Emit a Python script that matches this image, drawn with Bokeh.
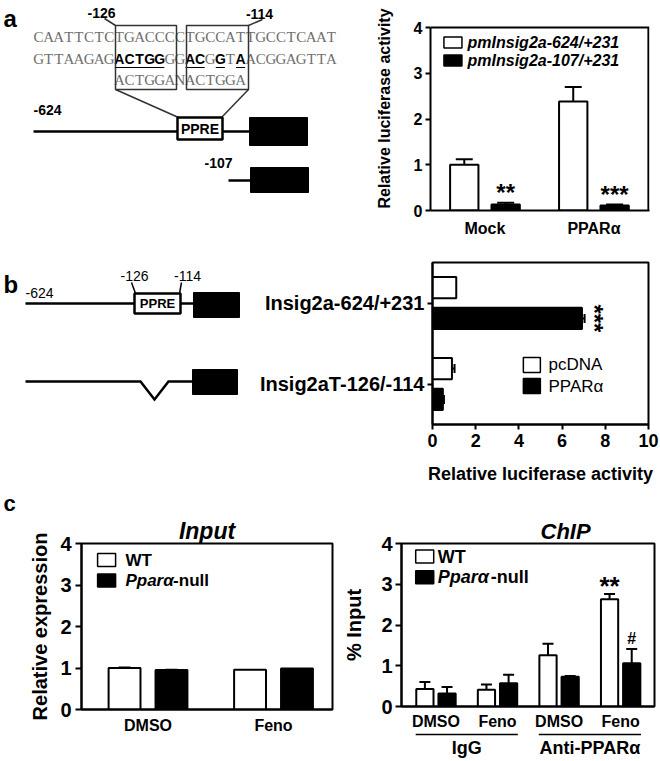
import numpy as np
from bokeh.plotting import figure
from bokeh.models import Range1d, FixedTicker, ColumnDataSource, Whisker, TeeHead, Title
from bokeh.layouts import row, column
from bokeh.embed import file_html
from bokeh.resources import INLINE
from bokeh.core.properties import value

FONT = "Liberation Sans"

# ---------------- data ----------------
# panel a : luciferase, two promoter constructs
a_groups = ["Mock", "PPARα"]
a_series = ["pmInsig2a-624/+231", "pmInsig2a-107/+231"]
a_long = [1.00, 2.38]
a_long_err = [0.12, 0.32]
a_short = [0.13, 0.11]
a_short_err = [0.04, 0.02]
a_marks = ["**", "***"]
a_yticks = [0, 1, 2, 3, 4]

# panel b : luciferase, PPRE deletion
b_constructs = ["Insig2a-624/+231", "Insig2aT-126/-114"]
b_series = ["pcDNA", "PPARα"]
b_pcdna = [1.10, 0.90]
b_pcdna_err = [0.0, 0.12]
b_ppara = [6.92, 0.48]
b_ppara_err = [0.12, 0.05]
b_marks = ["***", ""]
b_xticks = [0, 2, 4, 6, 8, 10]

# panel c : Input and ChIP
c_series = ["WT", "Pparα-null"]
input_treat = ["DMSO", "Feno"]
input_wt = [1.00, 0.96]
input_wt_err = [0.01, 0.0]
input_null = [0.95, 0.99]
input_null_err = [0.01, 0.0]
chip_groups = ["IgG", "Anti-PPARα"]
chip_treat = ["DMSO", "Feno", "DMSO", "Feno"]
chip_wt = [0.43, 0.41, 1.26, 2.63]
chip_wt_err = [0.17, 0.13, 0.28, 0.13]
chip_null = [0.32, 0.57, 0.73, 1.06]
chip_null_err = [0.16, 0.21, 0.02, 0.35]
chip_marks_wt = ["", "", "", "**"]
chip_marks_null = ["", "", "", "#"]
c_yticks = [0, 1, 2, 3, 4]


# ---------------- helpers ----------------
def base_fig(w, h, xr, yr, bl, br, bt, bb):
    p = figure(width=w, height=h, x_range=xr, y_range=yr, output_backend="svg",
               toolbar_location=None, min_border_left=bl, min_border_right=br,
               min_border_top=bt, min_border_bottom=bb)
    p.xgrid.visible = False
    p.ygrid.visible = False
    p.outline_line_color = "black"
    p.outline_line_width = 2
    p.outline_line_alpha = 1
    p.background_fill_color = "white"
    p.border_fill_color = "white"
    for ax in p.axis:
        ax.axis_line_width = 2
        ax.axis_line_color = "black"
        ax.major_tick_line_width = 2
        ax.major_tick_line_color = "black"
        ax.major_tick_in = 0
        ax.major_tick_out = 5
        ax.minor_tick_line_color = None
        ax.major_label_text_font = FONT
        ax.major_label_text_font_style = "bold"
        ax.major_label_text_color = "black"
        ax.axis_label_text_font = FONT
        ax.axis_label_text_font_style = "bold"
        ax.axis_label_text_color = "black"
    return p


def canvas(w, h, x0, y_top, y_bot, bt, bb, xr=None, bl=0, br=0):
    # frame spans the rows between bt and h-bb; y_top / y_bot are the page rows there
    p = figure(width=w, height=h,
               x_range=xr if xr is not None else Range1d(x0, x0 + w),
               y_range=Range1d(y_bot, y_top),
               output_backend="svg", toolbar_location=None,
               min_border_left=bl, min_border_right=br, min_border_top=bt, min_border_bottom=bb,
               x_axis_location=None, y_axis_location=None)
    p.outline_line_color = None
    p.background_fill_color = "white"
    p.border_fill_color = "white"
    p.grid.visible = False
    return p


def txt(p, x, y, s, size, style="bold", color="black", align="left", font=FONT,
        baseline="middle", angle=0):
    p.text(x=[x], y=[y], text=[s], text_font=value(font), text_font_size=f"{size}px",
           text_font_style=style, text_color=color, text_align=align,
           text_baseline=baseline, angle=angle)


def seg(p, pts, width=2.5, color="black"):
    xs = [q[0] for q in pts]
    ys = [q[1] for q in pts]
    p.line(xs, ys, line_width=width, line_color=color, line_cap="butt", line_join="miter")


def box(p, l, r, t, b, fill=None, width=2.5, color="black"):
    p.quad(left=[l], right=[r], top=[t], bottom=[b], fill_color=fill,
           line_color=color, line_width=width)


def whisk(p, base, center, err, dim, size, lw=2):
    base = np.asarray(base, float)
    center = np.asarray(center, float)
    err = np.asarray(err, float)
    keep = err > 0
    src = ColumnDataSource(dict(base=base[keep], lower=(center - err)[keep],
                                upper=(center + err)[keep]))
    w = Whisker(source=src, base="base", lower="lower", upper="upper", dimension=dim,
                line_width=lw, line_color="black",
                upper_head=TeeHead(size=size, line_width=lw, line_color="black"),
                lower_head=TeeHead(size=size, line_width=lw, line_color="black"))
    p.add_layout(w)


def title(text, size, style, align="center", offset=0):
    return Title(text=text, align=align, offset=offset, text_font=FONT,
                 text_font_size=f"{size}px", text_font_style=style,
                 text_color="black", standoff=0)


# ---------------- panel a diagram (frame rows 6..210) ----------------
da = canvas(360, 245, 0, 6, 210, 6, 35)
SEQ_X0, CW = 33, 10.1
seq_top = "CAATTCTCTGACCCCTGCCATTGCCTCAAT"
seq_bot = "GTTAAGAGACTGGGGACGGTAACGGAGTTA"
bold_idx = [8, 9, 10, 11, 12, 15, 16, 18, 20]
seq_cons = "ACTGGANACTGGA"
cons_start = 8
rows_y = [36, 58, 79]

nx, ny, nt = [], [], []
bx, by, bt = [], [], []
for i, ch in enumerate(seq_top):
    nx.append(SEQ_X0 + (i + 0.5) * CW); ny.append(rows_y[0]); nt.append(ch)
for i, ch in enumerate(seq_bot):
    if i in bold_idx:
        bx.append(SEQ_X0 + (i + 0.5) * CW); by.append(rows_y[1]); bt.append(ch)
    else:
        nx.append(SEQ_X0 + (i + 0.5) * CW); ny.append(rows_y[1]); nt.append(ch)
for j, ch in enumerate(seq_cons):
    i = cons_start + j
    nx.append(SEQ_X0 + (i + 0.5) * CW); ny.append(rows_y[2]); nt.append(ch)
da.text(x=nx, y=ny, text=nt, text_font=value("Liberation Serif"), text_font_size="15px",
        text_color="#6e6e6e", text_align="center", text_baseline="middle")
da.text(x=bx, y=by, text=bt, text_font=value(FONT), text_font_size="14px",
        text_font_style="bold", text_color="black", text_align="center", text_baseline="middle")
for grp in [(8, 12), (15, 16), (18, 18), (20, 20)]:
    seg(da, [(SEQ_X0 + grp[0] * CW + 0.5, 67), (SEQ_X0 + (grp[1] + 1) * CW - 0.5, 67)],
        width=1.2)

box(da, 115, 176, 25, 89, None, 1.5, "#333333")
box(da, 186, 248, 25, 89, None, 1.5, "#333333")
seg(da, [(104, 18), (115, 25)], 1.5, "#333333")
seg(da, [(262, 19), (248, 25)], 1.5, "#333333")
seg(da, [(115, 89), (178, 117)], 1.5, "#333333")
seg(da, [(248, 89), (221, 117)], 1.5, "#333333")
seg(da, [(33, 131), (177, 131)])
seg(da, [(222, 131), (249, 131)])
box(da, 177, 222, 117, 139, "white", 2.5)
box(da, 249, 307, 117, 145, "black", 1)
seg(da, [(228, 180), (250, 180)])
box(da, 250, 308, 167, 192, "black", 1)
txt(da, 3, 18, "a", 24)
txt(da, 101, 12, "-126", 14, align="center")
txt(da, 259, 13, "-114", 14, align="center")
txt(da, 33, 109, "-624", 14)
txt(da, 199.5, 128, "PPRE", 14, align="center")
txt(da, 204, 162, "-107", 14)

# ---------------- panel a chart ----------------
xa = np.arange(len(a_groups)) + 0.5
A_TOP = 4
pa = base_fig(300, 245, Range1d(0, 2.01), Range1d(0, 204 / 45.75), 70, 11, 6, 35)
pa.outline_line_color = None
pa.yaxis.bounds = (0, A_TOP)
pa.line([0, 2, 2], [A_TOP, A_TOP, 0], line_width=2, line_color="black", line_join="miter")
pa.vbar(x=xa - 0.19, top=a_long, width=0.26, fill_color="white", line_color="black", line_width=2)
pa.vbar(x=xa + 0.19, top=a_short, width=0.26, fill_color="black", line_color="black", line_width=2)
whisk(pa, xa - 0.19, a_long, a_long_err, "height", 17)
whisk(pa, xa + 0.19, a_short, a_short_err, "height", 17)
mk_y = np.array(a_short) + np.array(a_short_err) + 0.23
pa.text(x=xa + 0.19, y=mk_y, text=a_marks, text_font=value(FONT), text_font_size="24px",
        text_font_style="bold", text_align="center", text_baseline="alphabetic")
pa.xaxis.ticker = FixedTicker(ticks=list(xa))
pa.xaxis.major_label_overrides = {float(x): g for x, g in zip(xa, a_groups)}
pa.xaxis.major_tick_out = 0
pa.xaxis.major_label_standoff = 9
pa.xaxis.major_label_text_font_size = "16px"
pa.yaxis.ticker = FixedTicker(ticks=a_yticks)
pa.yaxis.major_label_text_font_size = "16px"
pa.yaxis.major_label_standoff = 3
pa.yaxis.axis_label = "Relative luciferase activity"
pa.yaxis.axis_label_text_font_size = "16px"
pa.yaxis.axis_label_standoff = 18
# legend
pa.rect(x=[0.206, 0.206], y=[3.67, 3.28], width=18, height=11, width_units="screen",
        height_units="screen", fill_color=["white", "black"], line_color="black", line_width=1.5)
pa.text(x=[0.34, 0.34], y=[3.67, 3.28], text=a_series, text_font=value(FONT),
        text_font_size="16px", text_font_style="bold italic", text_baseline="middle")

# ---------------- panel b diagram (frame rows 262..424) ----------------
ROW2_H, ROW2_BB = 242, 63
db = canvas(240, ROW2_H, 0, 262, 424, 17, ROW2_BB)
txt(db, 3, 284, "b", 24)
txt(db, 25, 292, "-624", 14, style="normal")
txt(db, 134, 275, "-126", 14, style="normal", align="center")
txt(db, 187, 275, "-114", 14, style="normal", align="center")
seg(db, [(131, 282), (135, 293)], 1.5)
seg(db, [(181, 282), (179, 293)], 1.5)
seg(db, [(25, 303), (134, 303)])
seg(db, [(180, 303), (193, 303)])
box(db, 134, 180, 293, 313, "white", 2.5)
txt(db, 157, 303, "PPRE", 13, align="center")
box(db, 193, 239, 292, 317, "black", 1)
seg(db, [(25, 381), (140, 381), (154, 399), (168, 381), (192, 381)])
box(db, 192, 237, 369, 394, "black", 1)

# ---------------- panel b chart ----------------
yb = np.arange(len(b_constructs))[::-1] + 0.5
pb = base_fig(420, ROW2_H, Range1d(0, 10), Range1d(0, 2), 192, 12, 17, ROW2_BB)
pb.hbar(y=yb + 0.19, right=b_pcdna, height=0.265, fill_color="white", line_color="black", line_width=2)
pb.hbar(y=yb - 0.19, right=b_ppara, height=0.265, fill_color="black", line_color="black", line_width=2)
whisk(pb, yb + 0.19, b_pcdna, b_pcdna_err, "width", 9)
whisk(pb, yb - 0.19, b_ppara, b_ppara_err, "width", 9)
for k, m in enumerate(b_marks):
    if m:
        txt(pb, b_ppara[k] + b_ppara_err[k] + 0.45, yb[k] - 0.19, m, 24, align="center",
            angle=-np.pi / 2)
pb.xaxis.ticker = FixedTicker(ticks=b_xticks)
pb.xaxis.major_label_text_font_size = "18px"
pb.xaxis.major_label_standoff = 4
pb.xaxis.axis_label = "Relative luciferase activity"
pb.xaxis.axis_label_text_font_size = "18px"
pb.xaxis.axis_label_standoff = 14
pb.yaxis.ticker = FixedTicker(ticks=list(yb))
pb.yaxis.major_label_overrides = {float(y): c for y, c in zip(yb, b_constructs)}
pb.yaxis.major_label_text_font_size = "20px"
pb.yaxis.major_label_standoff = 3
pb.rect(x=[4.6, 4.6], y=[0.735, 0.475], width=17, height=15, width_units="screen",
        height_units="screen", fill_color=["white", "black"], line_color="black", line_width=1.5)
pb.text(x=[5.37, 5.37], y=[0.735, 0.475], text=b_series, text_font=value(FONT),
        text_font_size="17px", text_font_style="normal", text_baseline="middle")

# ---------------- panel c : Input ----------------
ROW3_H = 273
C_TOP = 56
xi = np.arange(len(input_treat)) + 0.5
pin = base_fig(340, ROW3_H, Range1d(-0.03, 1.97), Range1d(0, 4), 81, 8, C_TOP, 51)
pin.vbar(x=xi - 0.187, top=input_wt, width=0.254, fill_color="white", line_color="black", line_width=2)
pin.vbar(x=xi + 0.187, top=input_null, width=0.254, fill_color="black", line_color="black", line_width=2)
whisk(pin, xi - 0.187, input_wt, input_wt_err, "height", 12)
whisk(pin, xi + 0.187, input_null, input_null_err, "height", 12)
pin.xaxis.ticker = FixedTicker(ticks=list(xi))
pin.xaxis.major_label_overrides = {float(x): t for x, t in zip(xi, input_treat)}
pin.xaxis.major_tick_out = 0
pin.xaxis.major_label_standoff = 7
pin.xaxis.major_label_text_font_size = "16px"
pin.yaxis.ticker = FixedTicker(ticks=c_yticks)
pin.yaxis.major_tick_out = 6
pin.yaxis.major_label_text_font_size = "20px"
pin.yaxis.major_label_standoff = 4
pin.yaxis.axis_label = "Relative expression"
pin.yaxis.axis_label_text_font_size = "20px"
pin.yaxis.axis_label_standoff = 6
pin.rect(x=[0.17, 0.17], y=[3.6, 3.11], width=18, height=13, width_units="screen",
         height_units="screen", fill_color=["white", "black"], line_color="black", line_width=1.5)
txt(pin, 0.32, 3.6, c_series[0], 17)
txt(pin, 0.32, 3.11, c_series[1][:5], 17, style="bold italic")
txt(pin, 0.70, 3.11, c_series[1][5:], 17)
pin.add_layout(title("Input", 23, "bold italic"), "above")
pin.add_layout(title("c", 22, "bold", align="left", offset=-78), "above")

# ---------------- panel c : ChIP ----------------
xc = np.arange(len(chip_treat)) + 0.5
pch = base_fig(320, ROW3_H - 28, Range1d(-0.06, 4.05), Range1d(0, 4), 58, 6, C_TOP, 25)
pch.vbar(x=xc - 0.18, top=chip_wt, width=0.28, fill_color="white", line_color="black", line_width=2)
pch.vbar(x=xc + 0.18, top=chip_null, width=0.28, fill_color="black", line_color="black", line_width=2)
whisk(pch, xc - 0.18, chip_wt, chip_wt_err, "height", 11)
whisk(pch, xc + 0.18, chip_null, chip_null_err, "height", 11)
for k in range(len(xc)):
    if chip_marks_wt[k]:
        txt(pch, xc[k] - 0.18, chip_wt[k] + chip_wt_err[k] + 0.2, chip_marks_wt[k], 26,
            align="center", baseline="alphabetic")
    if chip_marks_null[k]:
        txt(pch, xc[k] + 0.18, chip_null[k] + chip_null_err[k] + 0.26, chip_marks_null[k], 16,
            align="center", baseline="alphabetic")
pch.xaxis.ticker = FixedTicker(ticks=list(xc))
pch.xaxis.major_label_overrides = {float(x): t for x, t in zip(xc, chip_treat)}
pch.xaxis.major_tick_out = 0
pch.xaxis.major_label_standoff = 6
pch.xaxis.major_label_text_font_size = "16px"
pch.yaxis.ticker = FixedTicker(ticks=c_yticks)
pch.yaxis.major_tick_out = 6
pch.yaxis.major_label_text_font_size = "20px"
pch.yaxis.major_label_standoff = 3
pch.yaxis.axis_label = "% Input"
pch.yaxis.axis_label_text_font_size = "20px"
pch.yaxis.axis_label_standoff = 13
pch.rect(x=[0.317, 0.317], y=[3.68, 3.17], width=18, height=13, width_units="screen",
         height_units="screen", fill_color=["white", "black"], line_color="black", line_width=1.5)
txt(pch, 0.53, 3.68, c_series[0], 18)
txt(pch, 0.53, 3.17, c_series[1][:5], 18, style="bold italic")
txt(pch, 1.39, 3.17, c_series[1][5:], 18)
pch.add_layout(title("ChIP", 22, "bold italic", align="left", offset=139), "above")

# footer with group labels under ChIP
pf = canvas(320, 28, 340, 0, 28, 0, 0, xr=pch.x_range, bl=58, br=6)
gcent = [np.mean(xc[2 * g:2 * g + 2]) for g in range(len(chip_groups))]
for g, name in enumerate(chip_groups):
    lo, hi = xc[2 * g] - 0.33, xc[2 * g + 1] + 0.33
    pf.line([lo, hi], [2, 2], line_width=1.5, line_color="black")
    pf.text(x=[gcent[g]], y=[15], text=[name], text_font=value(FONT), text_font_size="18px",
            text_font_style="bold", text_align="center", text_baseline="middle")

layout = column(
    row(da, pa),
    row(db, pb),
    row(pin, column(pch, pf)),
)

open("out.html", "w").write(file_html(layout, INLINE))
